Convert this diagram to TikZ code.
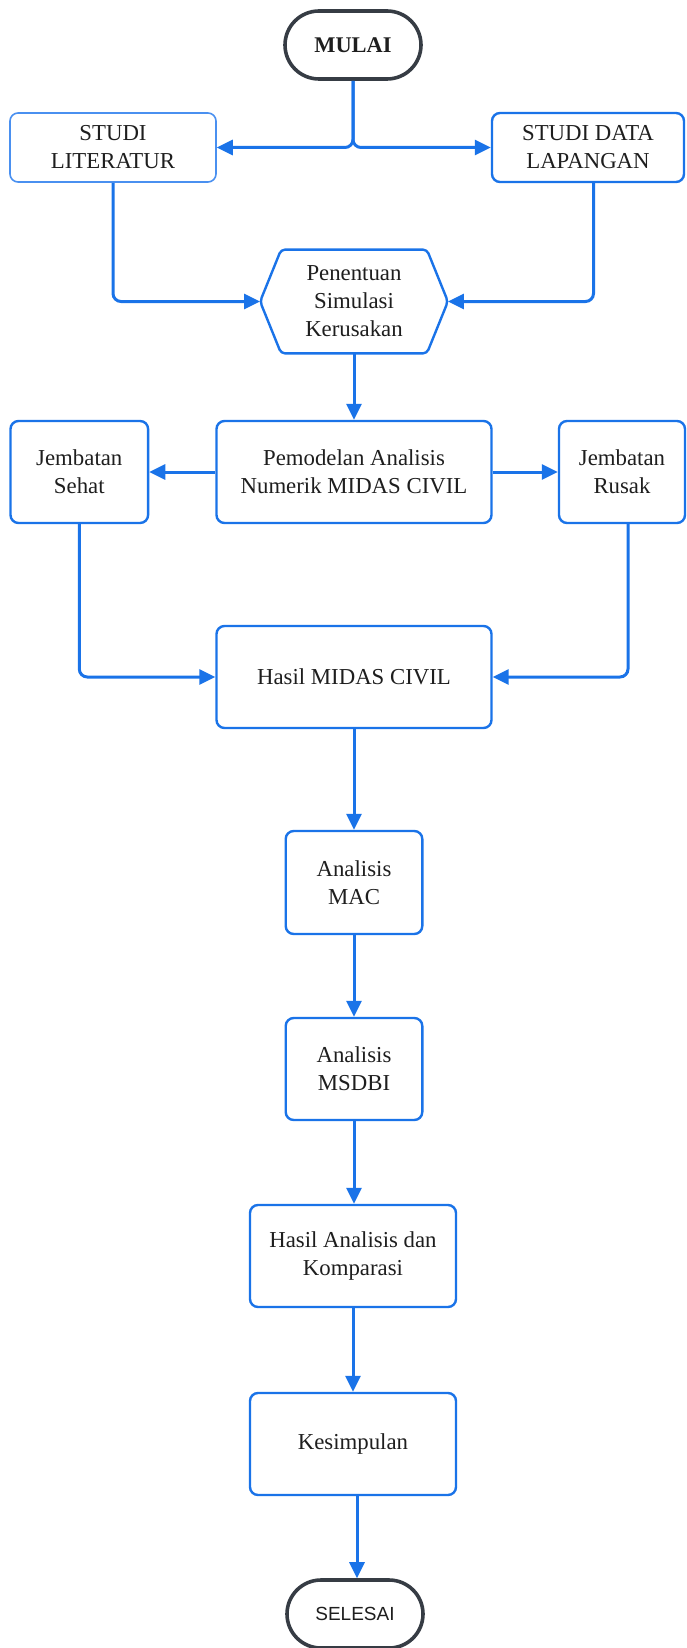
\documentclass[tikz,border=0pt]{standalone}
\usepackage{fontspec}
\setmainfont{Liberation Serif}
\newfontfamily\labelsans{Liberation Sans}
\usetikzlibrary{arrows.meta}
\definecolor{flowblue}{HTML}{1A73E8}
\definecolor{litblue}{HTML}{4A90F0}
\definecolor{termgray}{HTML}{363C44}
\definecolor{txtgray}{HTML}{1E1E1E}
\tikzset{
  flownode/.style = {align=center, inner sep=0pt, text centered, text=txtgray,
                     font=\fontsize{11.4}{14}\selectfont},
  procbox/.style = {flownode, rectangle, rounded corners=4pt, draw=flowblue, line width=1.2pt},
  litbox/.style = {procbox, draw=litblue, line width=0.8pt},
  termnode/.style = {flownode, rectangle, rounded corners=17pt, draw=termgray, line width=1.8pt,
                     minimum width=68pt, minimum height=34pt},
  decnode/.style = {flownode, rectangle, minimum width=93.5pt, minimum height=51.5pt},
  conn/.style = {draw=flowblue, line width=1.5pt, rounded corners=4pt,
                 -{Triangle[length=8pt,width=7.5pt]}},
}

\begin{document}
\begin{tikzpicture}[x=0.5pt, y=-0.5pt]
\useasboundingbox (0,0) rectangle (686,1648);
% start and the two studies
\node [termnode, font=\fontsize{11.2}{14}\selectfont\bfseries] (mulai) at (353,45) {MULAI};
\node [litbox, minimum width=103pt, minimum height=34.5pt] (lit) at (113,147.5) {STUDI\\LITERATUR};
\node [procbox, minimum width=96pt, minimum height=34.5pt] (lap) at (588,147.5) {STUDI DATA\\LAPANGAN};
% hexagon for the damage scenario
\node [decnode] (sim) at (354,301.5) {Penentuan\\Simulasi\\Kerusakan};
\draw [flowblue, line width=1.2pt, rounded corners=2pt]
  (sim.west) -- ([xshift=10.5pt]sim.north west) -- ([xshift=-10.5pt]sim.north east)
  -- (sim.east) -- ([xshift=-10.5pt]sim.south east) -- ([xshift=10.5pt]sim.south west) -- cycle;
% modelling row
\node [procbox, minimum width=137.5pt, minimum height=51pt] (model) at (354,472) {Pemodelan Analisis\\Numerik MIDAS CIVIL};
\node [procbox, minimum width=68.8pt, minimum height=51pt] (sehat) at (79.3,472) {Jembatan\\Sehat};
\node [procbox, minimum width=63pt, minimum height=51pt] (rusak) at (622,472) {Jembatan\\Rusak};
\node [procbox, minimum width=137.5pt, minimum height=51pt] (hasil) at (354,677) {Hasil MIDAS CIVIL};
% analysis chain
\node [procbox, minimum width=68.3pt, minimum height=51.5pt] (mac) at (354,882.5) {Analisis\\MAC};
\node [procbox, minimum width=68.3pt, minimum height=51pt] (msdbi) at (354,1069) {Analisis\\MSDBI};
\node [procbox, minimum width=103pt, minimum height=51pt] (komp) at (353,1256) {Hasil Analisis dan\\Komparasi};
\node [procbox, minimum width=103pt, minimum height=51pt] (simpul) at (353,1444) {Kesimpulan};
\node [termnode, font=\labelsans\fontsize{9.5}{12}\selectfont] (selesai) at (355,1614) {SELESAI};

\draw [conn] (mulai.south) |- (lit.east);
\draw [conn] (mulai.south) |- (lap.west);
\draw [conn] (lit.south) |- (sim.west);
\draw [conn] ([xshift=2.75pt]lap.south) |- (sim.east);
\draw [conn] (sim.south) -- (model.north);
\draw [conn] (model.west) -- (sehat.east);
\draw [conn] (model.east) -- (rusak.west);
\draw [conn] (sehat.south) |- (hasil.west);
\draw [conn] ([xshift=3pt]rusak.south) |- (hasil.east);
\draw [conn] (hasil.south) -- (mac.north);
\draw [conn] (mac.south) -- (msdbi.north);
\draw [conn] (msdbi.south) -- (msdbi.south |- komp.north);
\draw [conn] (komp.south) -- (simpul.north);
\draw [conn] ([xshift=2pt]simpul.south) -- ([xshift=2pt]simpul.south |- selesai.north);
\end{tikzpicture}
\end{document}
